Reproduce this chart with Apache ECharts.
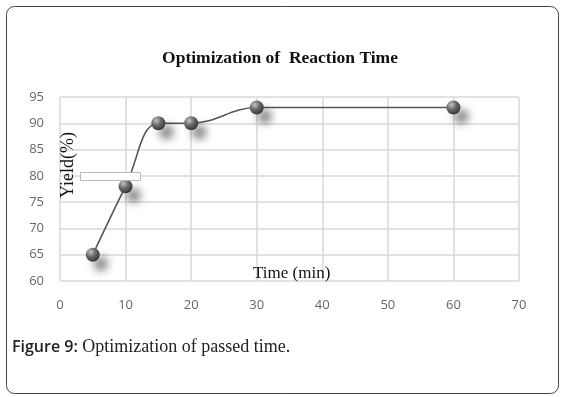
<!DOCTYPE html>
<html>
<head>
<meta charset="utf-8">
<script src="https://cdn.jsdelivr.net/npm/echarts@6/dist/echarts.min.js"></script>
<style>
  html, body { margin: 0; padding: 0; background: #fff; }
  #chart { width: 561px; height: 397px; }
</style>
</head>
<body>
<div id="chart"></div>
<script>
// reaction time (min) vs yield (%)
const timeMin = [5, 10, 15, 20, 30, 60];
const yieldPct = [65, 78, 90, 90, 93, 93];
const xTicks = [0, 10, 20, 30, 40, 50, 60, 70];
const yTicks = [60, 65, 70, 75, 80, 85, 90, 95];

const chart = echarts.init(document.getElementById("chart"));

const points = timeMin.map((t, i) => [t, yieldPct[i]]);

const option = {
  animation: false,
  backgroundColor: "#fff",
  grid: { left: 60, right: 42, top: 97, bottom: 116 },
  title: {
    text: "Optimization of  Reaction Time",
    left: 275,
    textAlign: "center",
    top: 44,
    textStyle: {
      fontFamily: "Liberation Serif",
      fontWeight: "bold",
      fontSize: 17.5,
      color: "#111",
    },
  },
  xAxis: {
    type: "value",
    min: xTicks[0],
    max: xTicks[xTicks.length - 1],
    interval: 10,
    axisLine: { show: false },
    axisTick: { show: false },
    axisLabel: { color: "#666", fontSize: 13, fontFamily: "Open Sans", margin: 18 },
    splitLine: { show: true, lineStyle: { color: "#d9d9d9", width: 1.5 } },
  },
  yAxis: {
    type: "value",
    min: yTicks[0],
    max: yTicks[yTicks.length - 1],
    interval: 5,
    axisLine: { show: false },
    axisTick: { show: false },
    axisLabel: { color: "#666", fontSize: 13, fontFamily: "Open Sans", margin: 16 },
    splitLine: { show: true, lineStyle: { color: "#d9d9d9", width: 1.5 } },
  },
  series: [
    {
      type: "line",
      data: points,
      smooth: 0.4,
      symbol: "circle",
      symbolSize: 14,
      lineStyle: { color: "#555", width: 1.6 },
      itemStyle: {
        color: {
          type: "radial",
          x: 0.35, y: 0.3, r: 0.7,
          colorStops: [
            { offset: 0, color: "#c4c4c4" },
            { offset: 0.5, color: "#6a6a6a" },
            { offset: 1, color: "#3a3a3a" },
          ],
        },
        borderWidth: 0,
        shadowColor: "rgba(0,0,0,0.5)",
        shadowBlur: 8,
        shadowOffsetX: 8,
        shadowOffsetY: 9,
      },
      z: 3,
    },
  ],
  graphic: [
    {
      type: "rect",
      left: 4, top: 4,
      shape: { width: 552, height: 387, r: 8 },
      style: { fill: "none", stroke: "#444", lineWidth: 1 },
      silent: true,
    },
    {
      type: "text",
      left: 59, top: 132,
      rotation: Math.PI / 2,
      originX: 0, originY: 0,
      style: {
        text: "Yield(%)",
        font: "18px 'Liberation Serif'",
        fill: "#111",
      },
      z: 10,
    },
    {
      type: "rect",
      left: 80, top: 172,
      shape: { width: 60, height: 8 },
      style: { fill: "#fff", stroke: "#bbb", lineWidth: 1 },
      z: 5,
    },
    {
      type: "text",
      left: 253, top: 265,
      style: {
        text: "Time (min)",
        font: "17px 'Liberation Serif'",
        fill: "#111",
      },
      z: 10,
    },
    {
      type: "text",
      left: 12, top: 338,
      style: {
        rich: {
          a: { fontFamily: "Open Sans", fontSize: 16, fontWeight: 600, fill: "#222" },
          b: { fontFamily: "Liberation Serif", fontSize: 18, fill: "#222" },
        },
        text: "{a|Figure 9:}{b| Optimization of passed time.}",
      },
      z: 10,
    },
  ],
};

option && chart.setOption(option, true);
</script>
</body>
</html>
